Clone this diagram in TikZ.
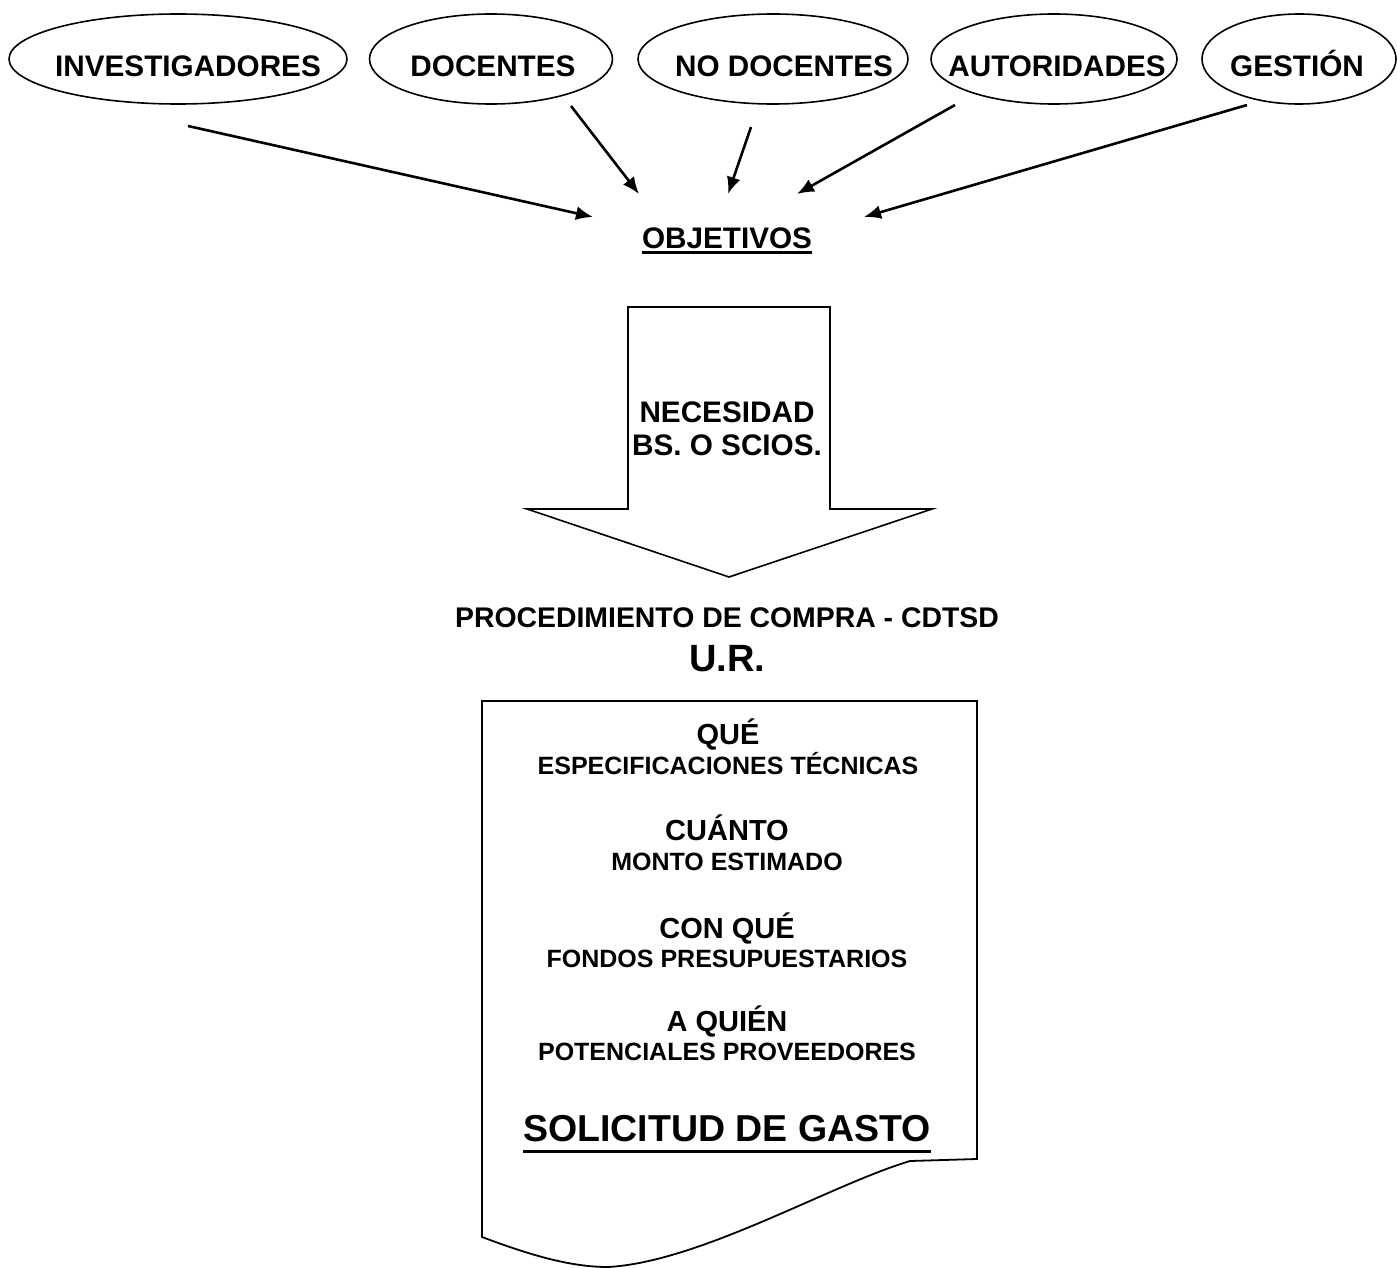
\documentclass[tikz,border=0pt]{standalone}
\usepackage{fontspec}
\setmainfont{Liberation Sans}
\usetikzlibrary{arrows.meta,shapes.geometric,positioning}

\begin{document}
\begin{tikzpicture}[x=1pt,y=-1pt,>={Latex[length=17pt,width=14pt]},
        actor/.style={draw,ellipse,line width=1.6pt,minimum height=90pt,inner sep=0pt},
        lbl/.style={anchor=base,inner sep=0pt,font=\fontsize{29.7}{34}\selectfont\bfseries},
        head/.style={anchor=base,inner sep=0pt,font=\fontsize{29}{34}\selectfont\bfseries},
        sub/.style={anchor=base,inner sep=0pt,font=\fontsize{25}{30}\selectfont\bfseries},
        feed/.style={->,line width=2.6pt}]

                \useasboundingbox (0,0) rectangle (1397,1268);

                % actors
                \node[actor,minimum width=338pt] (inv) at (178,59) {};
                \node[actor,minimum width=243pt] (doc) at (491,59) {};
                \node[actor,minimum width=270pt] (nodoc) at (773,59) {};
                \node[actor,minimum width=246pt] (aut) at (1054,59) {};
                \node[actor,minimum width=194pt] (ges) at (1299,59) {};

                \node[lbl] (inv-t) at (188,77) {INVESTIGADORES};
                \node[lbl] (doc-t) at (493,77) {DOCENTES};
                \node[lbl] (nodoc-t) at (784,77) {NO DOCENTES};
                \node[lbl] (aut-t) at (1057,77) {AUTORIDADES};
                \node[lbl] (ges-t) at (1297,77) {GESTIÓN};

                % objetivos
                \node[lbl] (obj) at (727,248) {OBJETIVOS};
                \draw[line width=3pt] ([yshift=-4pt]obj.base west) -- ([yshift=-4pt]obj.base east);

                \coordinate (inv-s) at (188,126);
                \coordinate (doc-s) at (571,106);
                \coordinate (nodoc-s) at (751,127);
                \coordinate (aut-s) at (955,105);
                \coordinate (ges-s) at (1247,105);
                \coordinate (obj-1) at (593,217);
                \coordinate (obj-2) at (639,194);
                \coordinate (obj-3) at (728,194);
                \coordinate (obj-4) at (797,194);
                \coordinate (obj-5) at (864,217);

                \draw[feed] (inv-s) -- (obj-1);
                \draw[feed] (doc-s) -- (obj-2);
                \draw[feed] (nodoc-s) -- (obj-3);
                \draw[feed] (aut-s) -- (obj-4);
                \draw[feed] (ges-s) -- (obj-5);

                % block arrow
                \draw[line width=1.6pt] (628,307) -- (830,307) -- (830,509) -- (932,509)
                        -- (729,577) -- (527,509) -- (628,509) -- cycle;
                \node[lbl] (nec) at (727,422) {NECESIDAD};
                \node[lbl] (bs) at (727,455) {BS. O SCIOS.};

                % procedimiento
                \node[lbl,font=\fontsize{28.4}{32}\selectfont\bfseries] (proc) at (727,627) {PROCEDIMIENTO DE COMPRA - CDTSD};
                \node[lbl,font=\fontsize{38}{44}\selectfont\bfseries] (ur) at (727,671) {U.R.};

                % document
                \draw[line width=1.8pt] (482,701) -- (977,701) -- (977,1159) -- (910,1161)
                        .. controls (830,1185) and (700,1262) .. (608,1267)
                        .. controls (570,1267) and (530,1255) .. (482,1237) -- cycle;

                \node[head] (que) at (728,744) {QUÉ};
                \node[sub] (esp) at (728,774) {ESPECIFICACIONES TÉCNICAS};
                \node[head] (cuanto) at (727,840) {CUÁNTO};
                \node[sub] (monto) at (727,870) {MONTO ESTIMADO};
                \node[head] (conque) at (727,938) {CON QUÉ};
                \node[sub] (fondos) at (727,967) {FONDOS PRESUPUESTARIOS};
                \node[head] (quien) at (727,1031) {A QUIÉN};
                \node[sub] (prov) at (727,1060) {POTENCIALES PROVEEDORES};

                \node[lbl,font=\fontsize{37.5}{44}\selectfont\bfseries] (sol) at (727,1141) {SOLICITUD DE GASTO};
                \draw[line width=3pt] ([yshift=-10pt]sol.base west) -- ([yshift=-10pt]sol.base east);

\end{tikzpicture}
\end{document}
